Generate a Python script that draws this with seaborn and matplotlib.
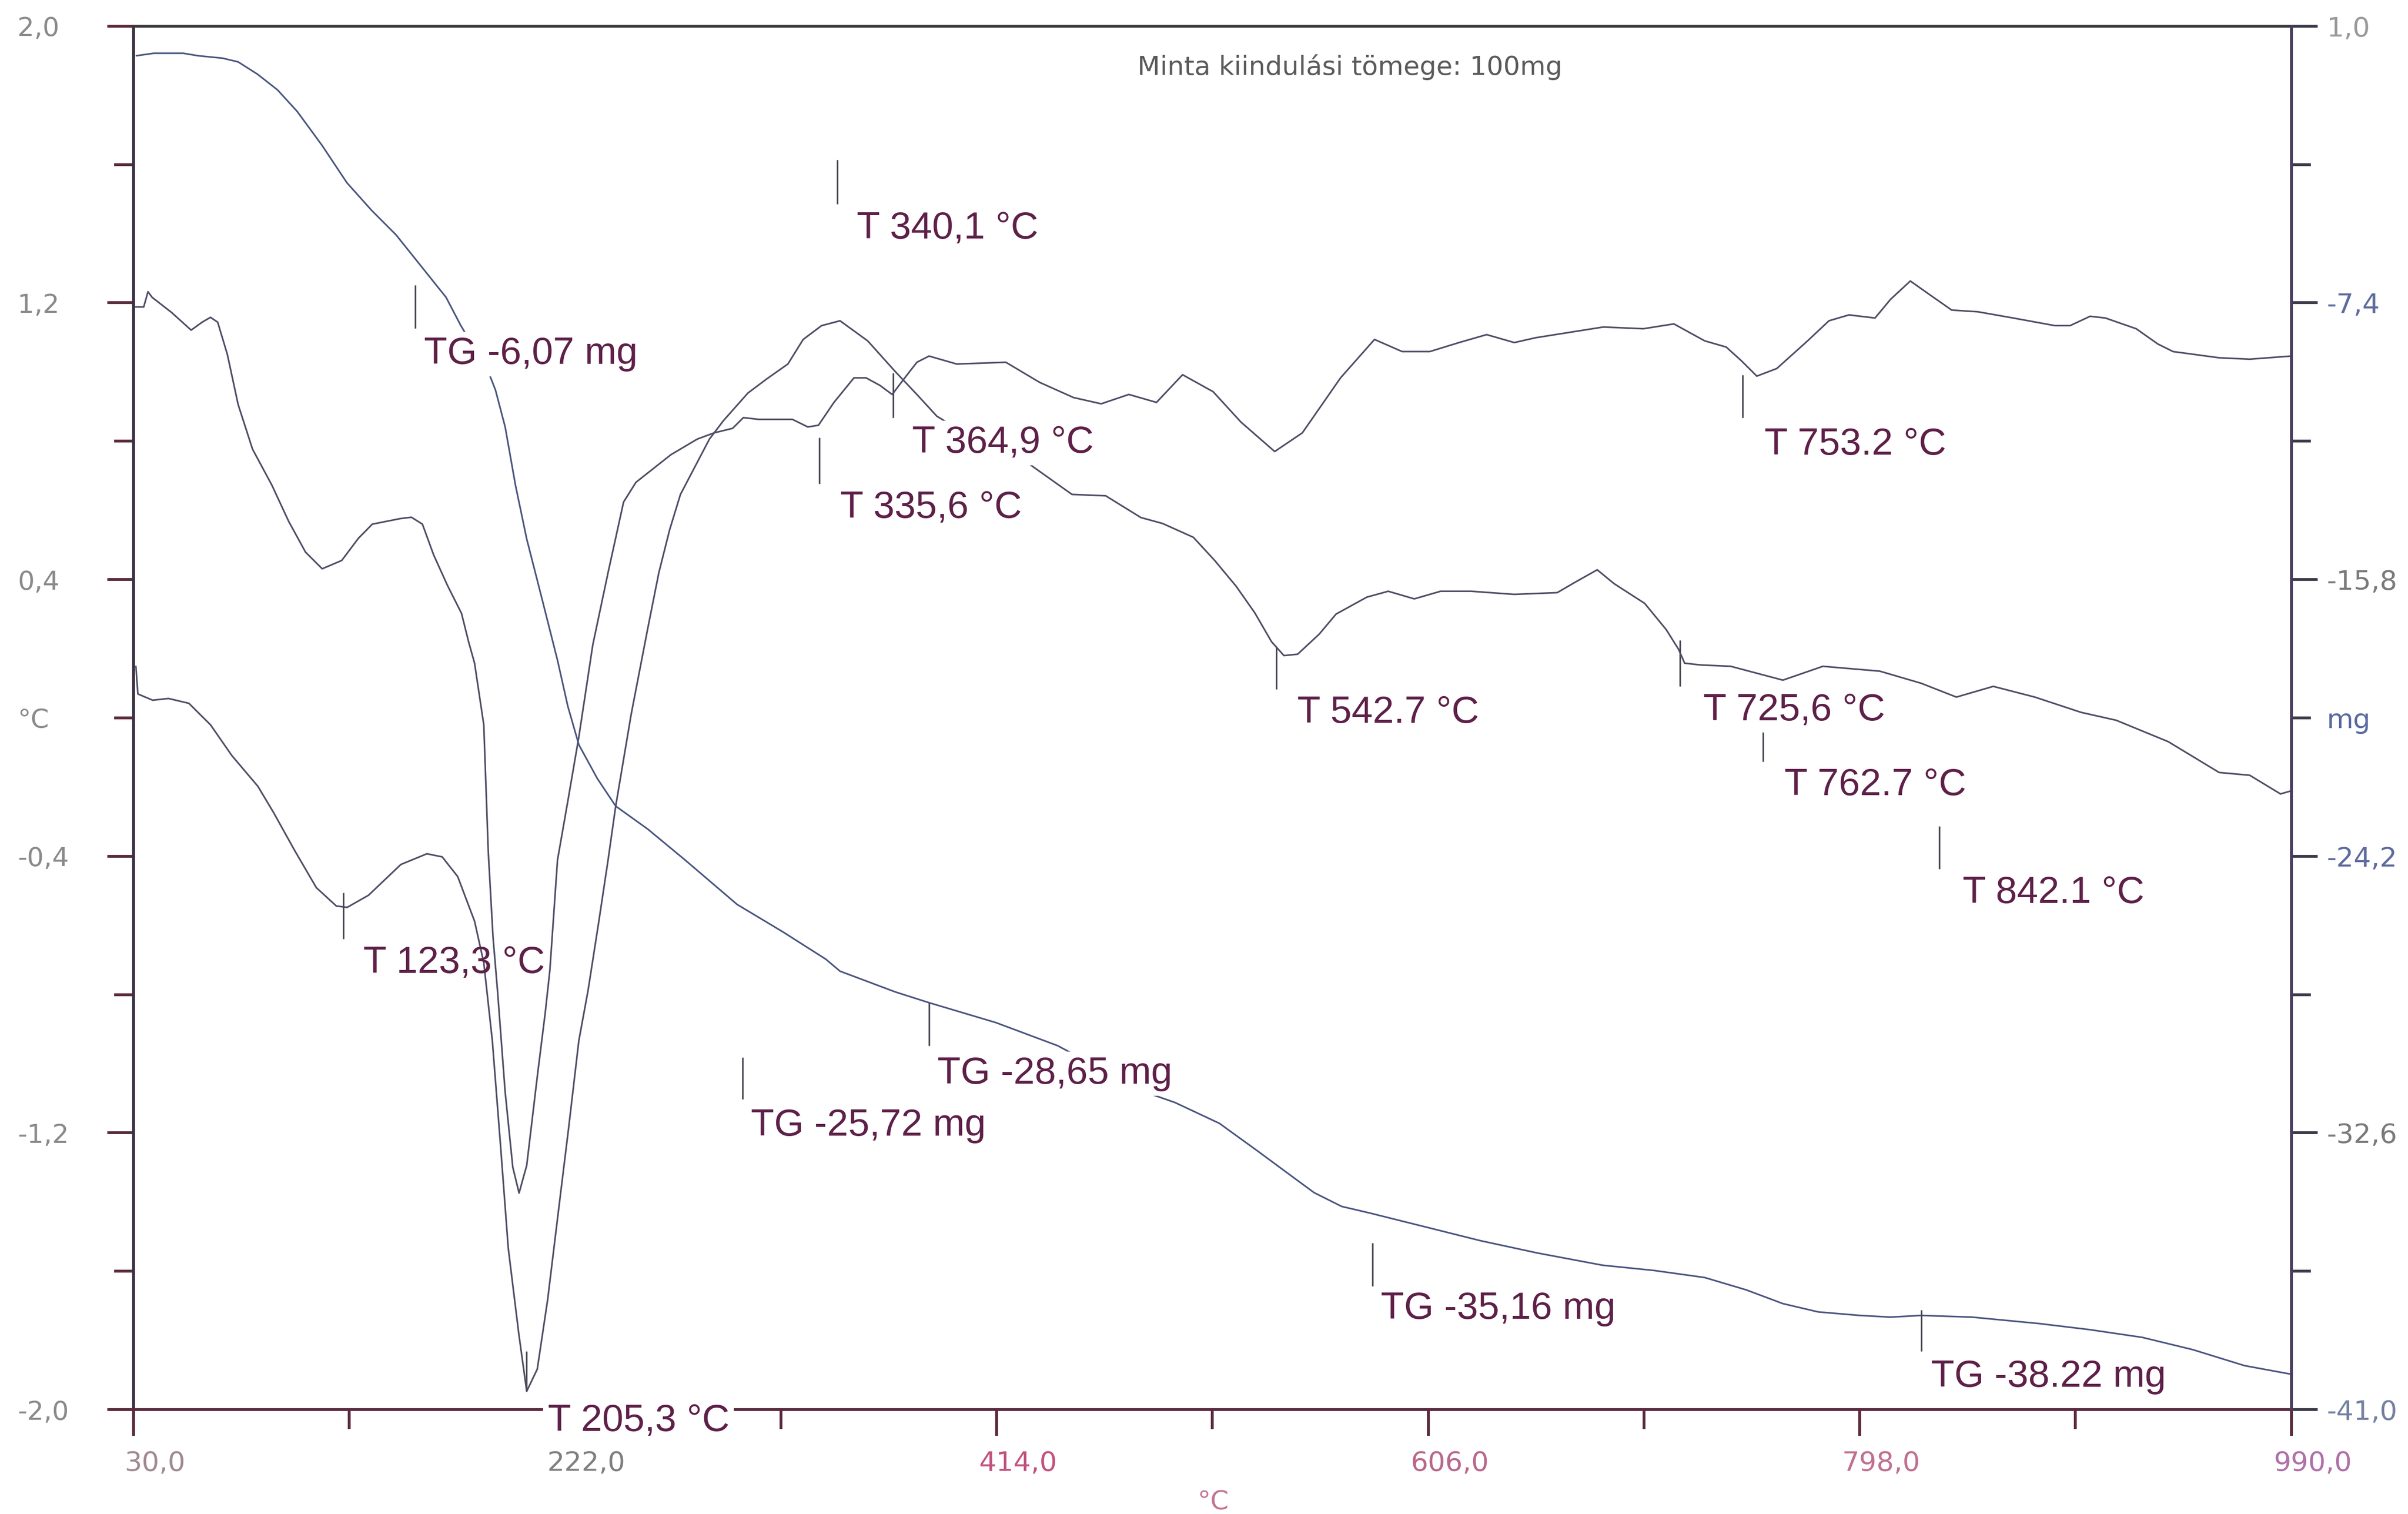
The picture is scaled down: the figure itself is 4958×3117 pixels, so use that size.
import matplotlib
matplotlib.use("Agg")
import matplotlib.pyplot as plt
import matplotlib.transforms as mtransforms
import numpy as np
import pandas as pd
import seaborn as sns

# ---------------- data ----------------
# DTA curve A (upper trace, left axis, °C)
dta_a_temp = [30.7, 34.5, 36.4, 38.2, 46.9, 55.6, 60.5, 64.2, 67.4, 71.7,
              76.5, 82.9, 91.5, 99.0, 106.5, 113.9, 122.6, 130.0, 136.2, 148.6,
              153.6, 158.5, 163.5, 169.7, 175.9, 179.0, 181.7, 185.8, 187.8, 189.9,
              191.9, 195.3, 198.7, 201.5, 204.9, 209.7, 213.1, 215.2, 218.6, 223.4,
              228.1, 234.3, 241.1, 248.0, 253.5, 269.1, 280.8, 288.3, 296.5, 301.3,
              308.1, 323.1, 330.0, 334.7, 341.6, 350.5, 355.9, 362.1, 367.5, 373.7,
              378.5, 383.9, 396.2, 418.1, 433.1, 448.2, 460.5, 472.8, 485.1, 496.7,
              510.3, 522.7, 537.7, 550.0, 567.0, 582.1, 594.4, 606.7, 619.7, 632.0,
              644.3, 653.8, 683.9, 701.7, 715.3, 729.0, 738.6, 745.4, 752.2, 761.1,
              774.8, 784.3, 793.2, 804.8, 811.7, 820.5, 830.1, 838.9, 850.6, 866.3,
              884.8, 891.6, 900.5, 907.3, 921.0, 930.6, 937.4, 957.9, 971.5, 990.0]
dta_a_val = [1.188, 1.188, 1.232, 1.216, 1.172, 1.121, 1.144, 1.158, 1.144, 1.051,
             0.906, 0.777, 0.673, 0.568, 0.479, 0.431, 0.455, 0.519, 0.560, 0.576,
             0.580, 0.560, 0.471, 0.382, 0.302, 0.221, 0.158, -0.020, -0.388, -0.633,
             -0.788, -1.081, -1.299, -1.374, -1.294, -1.032, -0.855, -0.730, -0.411, -0.233,
             -0.055, 0.211, 0.420, 0.624, 0.681, 0.761, 0.806, 0.824, 0.837, 0.868,
             0.863, 0.863, 0.841, 0.846, 0.912, 0.983, 0.983, 0.961, 0.935, 0.988,
             1.028, 1.046, 1.023, 1.028, 0.970, 0.926, 0.908, 0.935, 0.912, 0.992,
             0.943, 0.855, 0.770, 0.824, 0.983, 1.094, 1.059, 1.059, 1.085, 1.108,
             1.085, 1.099, 1.130, 1.125, 1.139, 1.090, 1.072, 1.032, 0.988, 1.010,
             1.090, 1.148, 1.165, 1.156, 1.210, 1.263, 1.219, 1.179, 1.174, 1.156,
             1.134, 1.134, 1.161, 1.156, 1.125, 1.081, 1.059, 1.041, 1.037, 1.046]

# DTA curve B (lower trace, left axis, °C)
dta_b_temp = [31.0, 31.9, 38.5, 45.5, 54.6, 64.2, 73.7, 85.3, 92.2, 101.7,
              111.3, 120.2, 125.0, 134.5, 148.9, 160.5, 167.3, 174.2, 181.7, 185.8,
              189.6, 193.2, 196.7, 201.4, 204.9, 209.6, 214.2, 218.9, 223.6, 228.1,
              232.2, 237.0, 241.1, 244.5, 251.4, 258.8, 263.7, 268.5, 273.3, 286.2,
              292.4, 303.3, 311.5, 321.1, 327.9, 336.1, 344.3, 356.6, 368.9, 378.5,
              387.4, 401.0, 414.7, 426.3, 447.5, 462.5, 478.2, 487.8, 501.5, 511.0,
              520.6, 528.8, 536.3, 541.8, 547.9, 557.5, 565.0, 578.7, 588.2, 599.8,
              611.5, 625.1, 644.3, 663.4, 671.6, 681.2, 688.7, 702.3, 711.9, 717.4,
              720.1, 727.0, 740.6, 763.8, 781.6, 806.9, 825.3, 841.0, 857.4, 875.9,
              896.4, 912.1, 935.3, 957.9, 971.5, 985.2, 990.0]
dta_b_val = [0.149, 0.069, 0.051, 0.056, 0.042, -0.020, -0.109, -0.198, -0.273, -0.384,
             -0.491, -0.544, -0.548, -0.513, -0.424, -0.393, -0.402, -0.459, -0.588, -0.708,
             -0.933, -1.232, -1.534, -1.782, -1.947, -1.883, -1.683, -1.432, -1.183, -0.933,
             -0.788, -0.588, -0.411, -0.255, 0.011, 0.260, 0.420, 0.544, 0.646, 0.806,
             0.859, 0.939, 0.979, 1.023, 1.094, 1.134, 1.148, 1.090, 1.001, 0.935,
             0.872, 0.819, 0.779, 0.744, 0.646, 0.642, 0.579, 0.562, 0.522, 0.455,
             0.380, 0.304, 0.220, 0.180, 0.184, 0.242, 0.300, 0.349, 0.366, 0.344,
             0.366, 0.366, 0.357, 0.362, 0.393, 0.428, 0.388, 0.331, 0.255, 0.198,
             0.158, 0.153, 0.149, 0.109, 0.149, 0.135, 0.100, 0.060, 0.091, 0.060,
             0.016, -0.007, -0.069, -0.158, -0.166, -0.220, -0.211]

# TG curve (right axis, mg)
tg_temp = [31.2, 38.9, 52.1, 58.7, 69.6, 76.5, 85.2, 94.0, 102.8, 113.9,
           124.9, 135.9, 146.8, 158.0, 169.0, 175.5, 181.7, 187.8, 191.0, 195.3,
           199.9, 204.9, 211.7, 218.6, 223.2, 228.1, 236.3, 244.5, 258.8, 275.3,
           298.5, 319.0, 338.0, 344.3, 368.9, 383.9, 413.7, 441.1, 459.1, 479.6,
           493.3, 513.1, 530.2, 542.5, 555.2, 567.5, 580.0, 604.6, 629.2, 654.5,
           683.6, 706.4, 729.0, 747.4, 763.8, 779.5, 798.0, 811.7, 825.3, 847.9,
           877.9, 900.5, 923.7, 946.2, 969.2, 990.0]
tg_mass = [0.100, 0.175, 0.175, 0.100, 0.026, -0.086, -0.464, -0.935, -1.592, -2.627,
           -3.755, -4.594, -5.340, -6.295, -7.232, -8.081, -8.789, -9.488, -10.048, -11.166,
           -12.938, -14.569, -16.387, -18.252, -19.650, -20.816, -21.841, -22.680, -23.380, -24.312,
           -25.664, -26.503, -27.328, -27.691, -28.321, -28.647, -29.253, -29.952, -30.605, -31.351,
           -31.677, -32.311, -33.155, -33.775, -34.413, -34.833, -35.033, -35.452, -35.872, -36.245,
           -36.618, -36.776, -36.991, -37.364, -37.783, -38.035, -38.142, -38.193, -38.142, -38.193,
           -38.389, -38.575, -38.808, -39.181, -39.666, -39.927]

# ticks
x_major = [30, 222, 414, 606, 798, 990]
x_major_labels = ["30,0", "222,0", "414,0", "606,0", "798,0", "990,0"]
x_minor = [126, 318, 510, 702, 894]
left_major = [2.0, 1.2, 0.4, -0.4, -1.2, -2.0]
left_major_labels = ["2,0", "1,2", "0,4", "-0,4", "-1,2", "-2,0"]
left_minor = [1.6, 0.8, 0.0, -0.8, -1.6]
left_minor_labels = ["", "", "°C", "", ""]
right_major = [1.0, -7.4, -15.8, -24.2, -32.6, -41.0]
right_major_labels = ["1,0", "-7,4", "-15,8", "-24,2", "-32,6", "-41,0"]
right_minor = [-3.2, -11.6, -20.0, -28.4, -36.8]
right_minor_labels = ["", "", "mg", "", ""]

# DTA peak annotations (left axis units)
dta_text = ["T 340,1 °C", "T 364,9 °C", "T 335,6 °C", "T 123,3 °C", "T 205,3 °C",
            "T 542.7 °C", "T 725,6 °C", "T 762.7 °C", "T 842.1 °C", "T 753.2 °C"]
dta_mark_t = [343.1, 367.9, 335.1, 123.3, 204.9, 538.4, 718.0, 755.0, 833.5, 745.8]
dta_mark_top = [1.614, 0.997, 0.810, -0.506, -1.831, 0.206, 0.224, 0.002, -0.313, 0.992]
dta_mark_bot = [1.485, 0.868, 0.677, -0.639, -1.947, 0.082, 0.091, -0.127, -0.437, 0.868]
dta_lab_t = [351.7, 376.4, 344.3, 132.2, 214.2, 547.8, 728.3, 764.5, 843.8, 755.6]
dta_lab_v = [1.386, 0.766, 0.579, -0.737, -2.062, -0.014, -0.007, -0.224, -0.535, 0.761]
dta_lab_box = [True, True, True, False, True, True, True, True, True, True]

# TG annotations (right axis units)
tg_text = ["TG -6,07 mg", "TG -25,72 mg", "TG -28,65 mg", "TG -35,16 mg", "TG -38.22 mg"]
tg_mark_t = [155.3, 300.9, 383.9, 581.2, 825.3]
tg_mark_top = [-6.859, -30.316, -28.638, -35.937, -37.970]
tg_mark_bot = [-8.174, -31.584, -29.952, -37.247, -39.229]
tg_lab_t = [159.1, 304.7, 387.7, 584.8, 829.8]
tg_lab_m = [-9.255, -32.679, -31.104, -38.245, -40.301]

title_text = "Minta kiindulási tömege: 100mg"

# ---------------- styling ----------------
sns.set_theme(style="white")
plt.rcParams["font.family"] = ["DejaVu Sans"]

W, H = 4958, 3117
fig = plt.figure(figsize=(W / 300, H / 300), dpi=300)
fig.patch.set_facecolor("white")
ax = fig.add_axes([87 / 1568, 1 - 918 / 986, (1492 - 87) / 1568, (918 - 17) / 986])
ax2 = ax.twinx()

curve_col = "#4e4e66"
tg_col = "#4a5580"
lab_col = "#5e2048"

df_a = pd.DataFrame({"T": dta_a_temp, "v": dta_a_val})
df_b = pd.DataFrame({"T": dta_b_temp, "v": dta_b_val})
df_tg = pd.DataFrame({"T": tg_temp, "m": tg_mass})

sns.lineplot(data=df_a, x="T", y="v", ax=ax, sort=False, estimator=None,
             color=curve_col, linewidth=0.8)
sns.lineplot(data=df_b, x="T", y="v", ax=ax, sort=False, estimator=None,
             color=curve_col, linewidth=0.8)
sns.lineplot(data=df_tg, x="T", y="m", ax=ax2, sort=False, estimator=None,
             color=tg_col, linewidth=0.8)

ax.set_xlim(30, 990)
ax.set_ylim(-2, 2)
ax2.set_ylim(-41, 1)
ax.set_xlabel("")
ax.set_ylabel("")
ax2.set_ylabel("")

# spines
for s in ["top", "bottom", "left", "right"]:
    ax2.spines[s].set_visible(False)
ax.spines["right"].set_visible(False)
ax2.spines["right"].set_visible(True)
ax.spines["top"].set_color("#3a3a3a")
ax.spines["bottom"].set_color("#5a2a3e")
ax.spines["left"].set_color("#3a3040")
ax2.spines["right"].set_color("#4a3c5a")
for sp in [ax.spines["top"], ax.spines["bottom"], ax.spines["left"], ax2.spines["right"]]:
    sp.set_linewidth(1.4)

# x ticks
ax.set_xticks(x_major)
ax.set_xticklabels(x_major_labels)
ax.set_xticks(x_minor, minor=True)
ax.tick_params(axis="x", which="major", direction="out", length=12.9, width=1.4,
               color="#5a2a3e", pad=7.2, labelsize=13.5, bottom=True)
ax.tick_params(axis="x", which="minor", direction="out", length=9.5, width=1.4,
               color="#5a2a3e", bottom=True)
x_cols = ["#a08a92", "#7f7f7f", "#c2527e", "#b8688a", "#c07090", "#b070a8"]
xoff = mtransforms.ScaledTranslation(10.6 / 72, 0, fig.dpi_scale_trans)
for lab, c in zip(ax.get_xticklabels(), x_cols):
    lab.set_color(c)
    lab.set_transform(lab.get_transform() + xoff)

# left y ticks
ax.set_yticks(left_major)
ax.set_yticklabels(left_major_labels)
ax.set_yticks(left_minor, minor=True)
ax.set_yticklabels(left_minor_labels, minor=True)
ax.tick_params(axis="y", which="major", direction="out", length=12.9, width=1.4,
               color="#5a2a3a", pad=44.4, labelsize=13, labelcolor="#8a8a8a", left=True)
ax.tick_params(axis="y", which="minor", direction="out", length=9.5, width=1.4,
               color="#5a2a3a", pad=47.6, labelsize=13, labelcolor="#8a8a8a", left=True)
for lab in ax.get_yticklabels() + ax.get_yticklabels(minor=True):
    lab.set_horizontalalignment("left")

# right y ticks
ax2.set_yticks(right_major)
ax2.set_yticklabels(right_major_labels)
ax2.set_yticks(right_minor, minor=True)
ax2.set_yticklabels(right_minor_labels, minor=True)
ax2.tick_params(axis="y", which="major", direction="out", length=12.9, width=1.4,
                color="#3a3a4a", pad=4.6, labelsize=13.5, right=True)
ax2.tick_params(axis="y", which="minor", direction="out", length=9.5, width=1.4,
                color="#3a3a4a", pad=8.0, labelsize=13.5, right=True)
r_cols = ["#9a9a9a", "#5d6b9e", "#7a7a7a", "#5d6b9e", "#7a7a7a", "#7480a0"]
for lab, c in zip(ax2.get_yticklabels(), r_cols):
    lab.set_color(c)
for lab in ax2.get_yticklabels(minor=True):
    lab.set_color("#5a6aa0")

# annotation markers
ax.vlines(dta_mark_t, dta_mark_bot, dta_mark_top, color="#4a4a55", linewidth=0.8, zorder=3)
ax2.vlines(tg_mark_t, tg_mark_bot, tg_mark_top, color="#4a4a55", linewidth=0.8, zorder=3)

box = dict(boxstyle="square,pad=0.12", facecolor="white", edgecolor="none")
for txt, t, v, b in zip(dta_text, dta_lab_t, dta_lab_v, dta_lab_box):
    ax2.text(t, v, txt, transform=ax.transData, ha="left", va="baseline",
             fontsize=18.8, fontfamily="Liberation Sans", color=lab_col,
             bbox=box if b else None, zorder=10)
for txt, t, m in zip(tg_text, tg_lab_t, tg_lab_m):
    ax2.text(t, m, txt, ha="left", va="baseline",
             fontsize=18.8, fontfamily="Liberation Sans", color=lab_col,
             bbox=box, zorder=10)

fig.text(879 / 1568, 1 - 48.8 / 986, title_text, ha="center", va="baseline",
         fontsize=13, color="#5a5a5a")
fig.text(790 / 1568, 1 - 978 / 986, "°C", ha="center", va="center",
         fontsize=13, color="#c47595")

fig.savefig("out.png", dpi=300, facecolor="white")
